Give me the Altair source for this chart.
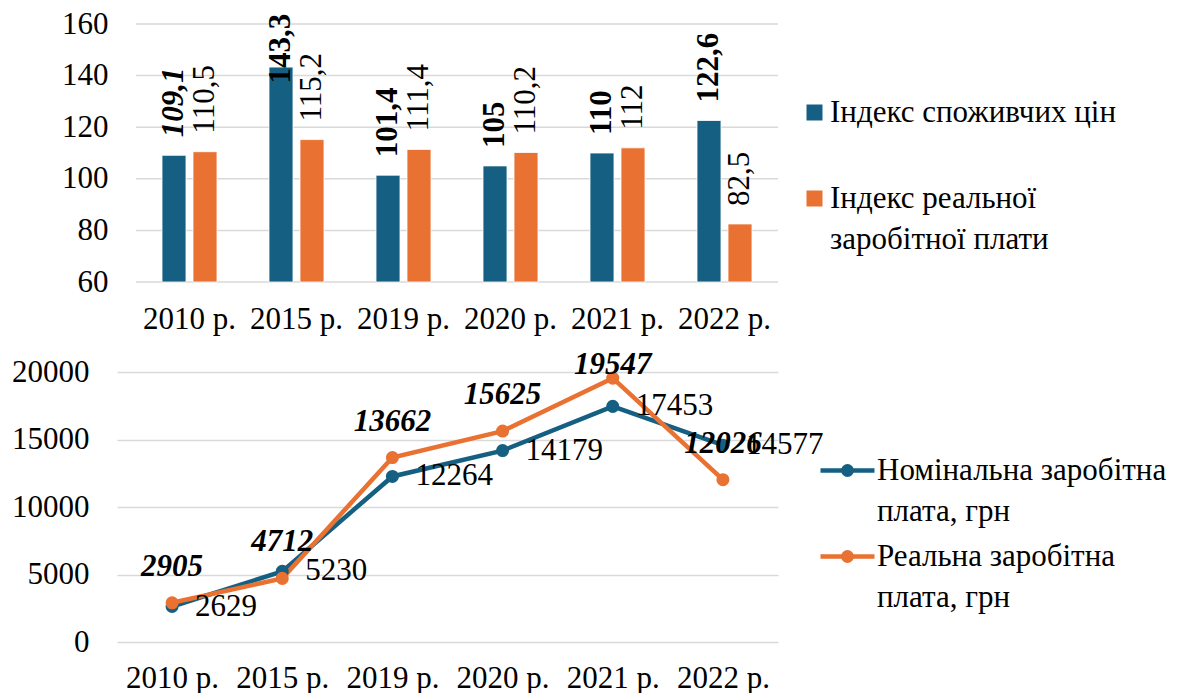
import altair as alt
import pandas as pd

# ---------------- data ----------------
years = ["2010 р.", "2015 р.", "2019 р.", "2020 р.", "2021 р.", "2022 р."]
consumer_price_index = [109.1, 143.3, 101.4, 105, 110, 122.6]
real_wage_index = [110.5, 115.2, 111.4, 110.2, 112, 82.5]
nominal_wage_uah = [2629, 5230, 12264, 14179, 17453, 14577]
real_wage_uah = [2905, 4712, 13662, 15625, 19547, 12026]

index_series = ["Індекс споживчих цін", "Індекс реальної заробітної плати"]
wage_series = ["Номінальна заробітна плата, грн", "Реальна заробітна плата, грн"]
top_ticks = [60, 80, 100, 120, 140, 160]
bottom_ticks = [0, 5000, 10000, 15000, 20000]

# legend label line breaks
legend_lines = {
    "Індекс споживчих цін": ["Індекс споживчих цін"],
    "Індекс реальної заробітної плати": ["Індекс реальної", "заробітної плати"],
    "Номінальна заробітна плата, грн": ["Номінальна заробітна", "плата, грн"],
    "Реальна заробітна плата, грн": ["Реальна заробітна", "плата, грн"],
}

BLUE = "#156082"
ORANGE = "#E97132"
GRID = "#D9D9D9"
FONT = "Liberation Serif"
FS = 31
W = 661          # panel width shared by both panels
TOP_INSET = 19   # top panel's bars/grid start a little to the right
TOP_H = 258


def label_expr(names):
    expr = "datum.label"
    for n in names:
        arr = "[" + ", ".join("'" + s + "'" for s in legend_lines[n]) + "]"
        expr = "datum.label == '" + n + "' ? " + arr + " : (" + expr + ")"
    return expr


top_df = pd.DataFrame({
    "year": years * 2,
    "series": [index_series[0]] * len(years) + [index_series[1]] * len(years),
    "value": consumer_price_index + real_wage_index,
})
bottom_df = pd.DataFrame({
    "year": years * 2,
    "series": [wage_series[0]] * len(years) + [wage_series[1]] * len(years),
    "value": nominal_wage_uah + real_wage_uah,
})
top_grid_df = pd.DataFrame({"tick": top_ticks})

axis_common = dict(labelFont=FONT, labelFontSize=FS, labelColor="black", ticks=False, domain=False)

# ---------------- top: grouped bars ----------------
x_top = alt.X("year:N", sort=years, title=None,
              scale=alt.Scale(paddingInner=0.486, paddingOuter=0.243, range=[TOP_INSET, W]),
              axis=alt.Axis(labelAngle=0, labelPadding=22, grid=False, **axis_common))
y_top_scale = alt.Scale(domain=[60, 160], nice=False, zero=False)
y_top = alt.Y("value:Q", title=None, scale=y_top_scale,
              axis=alt.Axis(values=top_ticks, format="d", labelPadding=9,
                            grid=False, minExtent=107, **axis_common))
xoff = alt.XOffset("series:N", sort=index_series,
                   scale=alt.Scale(paddingInner=0.226, paddingOuter=0))
color_top = alt.Color(
    "series:N", sort=index_series,
    scale=alt.Scale(domain=index_series, range=[BLUE, ORANGE]),
    legend=alt.Legend(title=None, orient="none", legendX=682, legendY=73, padding=0,
                      symbolType="square", symbolSize=256, symbolStrokeWidth=0,
                      labelFont=FONT, labelFontSize=FS, labelOffset=0, labelLimit=500,
                      rowPadding=54, labelColor="black", labelExpr=label_expr(index_series)))

top_grid = alt.Chart(top_grid_df).mark_rule(color=GRID, strokeWidth=1.5).encode(
    y=alt.Y("tick:Q", scale=y_top_scale),
    x=alt.value(TOP_INSET), x2=alt.value(W))

bars = alt.Chart(top_df).mark_bar(stroke="white", strokeWidth=0.8).encode(
    x=x_top, xOffset=xoff, y=y_top, y2=alt.datum(60), color=color_top)


def top_text(filter_expr, weight, style):
    return alt.Chart(top_df).transform_filter(filter_expr).transform_calculate(
        label="replace(toString(datum.value), '.', ',')",
        pos="min(datum.value, 130)",
    ).mark_text(angle=270, align="left", baseline="middle", dx=18, font=FONT, fontSize=FS,
                fontWeight=weight, fontStyle=style, color="black").encode(
        x=alt.X("year:N", sort=years),
        xOffset=xoff,
        y=alt.Y("pos:Q", scale=y_top_scale),
        text="label:N",
    )


cpi_first = (alt.datum.series == index_series[0]) & (alt.datum.year == years[0])
cpi_rest = (alt.datum.series == index_series[0]) & (alt.datum.year != years[0])
rwi = alt.datum.series == index_series[1]

top = alt.layer(
    top_grid,
    bars,
    top_text(cpi_first, "bold", "italic"),
    top_text(cpi_rest, "bold", "normal"),
    top_text(rwi, "normal", "normal"),
).properties(width=W, height=TOP_H)

# ---------------- bottom: lines ----------------
x_bot = alt.X("year:N", sort=years, title=None, scale=alt.Scale(type="point", padding=0.5),
              axis=alt.Axis(labelAngle=0, labelPadding=21, grid=False, **axis_common))
y_bot_scale = alt.Scale(domain=[0, 20000], nice=False)
y_bot = alt.Y("value:Q", title=None, scale=y_bot_scale,
              axis=alt.Axis(values=bottom_ticks, format="d", labelPadding=28, gridColor=GRID,
                            gridWidth=1.5, minExtent=107, **axis_common))
line_symbol = ("M-2.7,0 L2.7,0 M0.42,0 A0.42,0.42 0 1,1 -0.42,0 "
               "A0.42,0.42 0 1,1 0.42,0")
color_bot = alt.Color(
    "series:N", sort=wage_series,
    scale=alt.Scale(domain=wage_series, range=[BLUE, ORANGE]),
    legend=alt.Legend(title=None, orient="none", legendX=715, legendY=83, padding=0,
                      symbolType=line_symbol, symbolSize=400, symbolStrokeWidth=4.5,
                      labelFont=FONT, labelFontSize=FS, labelOffset=14, labelLimit=500,
                      rowPadding=13, labelColor="black", labelExpr=label_expr(wage_series)))

lines = alt.Chart(bottom_df).mark_line(strokeWidth=4.5).encode(x=x_bot, y=y_bot, color=color_bot)
points = alt.Chart(bottom_df).mark_circle(size=170, opacity=1).encode(
    x=x_bot, y=y_bot,
    color=alt.Color("series:N", scale=alt.Scale(domain=wage_series, range=[BLUE, ORANGE]), legend=None))

nom_labels = alt.Chart(bottom_df).transform_filter(alt.datum.series == wage_series[0]).mark_text(
    align="left", baseline="middle", dx=23, font=FONT, fontSize=FS, color="black").encode(
    x=alt.X("year:N", sort=years), y=alt.Y("value:Q", scale=y_bot_scale),
    text=alt.Text("value:Q", format="d"))

real_labels = alt.Chart(bottom_df).transform_filter(alt.datum.series == wage_series[1]).transform_calculate(
    pos="min(datum.value, 17850)").mark_text(
    align="center", baseline="middle", dy=-36, font=FONT, fontSize=FS, fontWeight="bold",
    fontStyle="italic", color="black").encode(
    x=alt.X("year:N", sort=years), y=alt.Y("pos:Q", scale=y_bot_scale),
    text=alt.Text("value:Q", format="d"))

bottom = alt.layer(lines, points, nom_labels, real_labels).properties(width=W, height=270)

chart = alt.vconcat(top, bottom, spacing=15).resolve_scale(
    color="independent", x="independent", y="independent", xOffset="independent"
).resolve_legend(color="independent").properties(
    padding={"left": 2, "top": 0, "right": 0, "bottom": 0},
).configure(
    font=FONT, style={"guide-label": {"font": FONT, "lineHeight": 41}}
).configure_view(strokeWidth=0)

chart.save("out.html", embed_options={"renderer": "svg", "actions": False})
